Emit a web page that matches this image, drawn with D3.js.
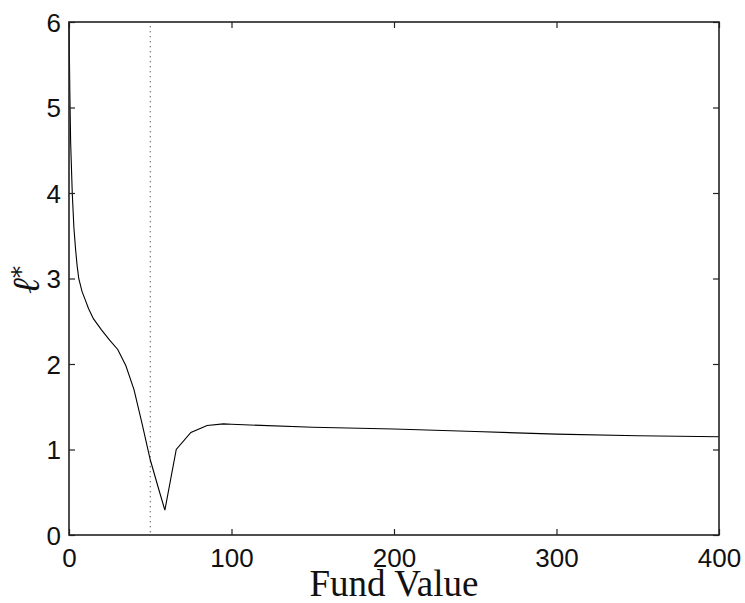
<!DOCTYPE html>
<html>
<head>
<meta charset="utf-8">
<script src="https://cdn.jsdelivr.net/npm/d3@7"></script>
<style>
  body { margin: 0; background: #fff; }
</style>
</head>
<body>
<script>
// fund value (x) and optimal l* (y)
var fundValue = [0, 0.5, 1, 2, 3, 4, 5, 6, 8, 10, 12, 15, 20, 25, 30, 35, 40, 45, 50, 55, 59, 66, 75, 85, 95, 100, 150, 200, 250, 300, 350, 400];
var lStar = [6, 5.2, 4.6, 4.0, 3.6, 3.35, 3.15, 3.0, 2.85, 2.75, 2.65, 2.53, 2.4, 2.28, 2.17, 1.98, 1.70, 1.30, 0.88, 0.55, 0.29, 1.0, 1.2, 1.28, 1.30, 1.295, 1.26, 1.24, 1.21, 1.18, 1.16, 1.15];
var xTicks = [0, 100, 200, 300, 400];
var yTicks = [0, 1, 2, 3, 4, 5, 6];
var thresholdX = 50;

var W = 745, H = 603;
var padL = 69, padR = 719, padT = 22, padB = 535;

var svg = d3.select("body").append("svg")
    .attr("width", W)
    .attr("height", H);

var x = d3.scaleLinear().domain([0, 400]).range([padL, padR]);
var y = d3.scaleLinear().domain([0, 6]).range([padB, padT]);

var tickFont = "'Liberation Sans', Arial, sans-serif";

// curve
var line = d3.line()
    .x(function(d, i){ return x(fundValue[i]); })
    .y(function(d){ return y(d); });

svg.append("path")
    .datum(lStar)
    .attr("d", line)
    .attr("fill", "none")
    .attr("stroke", "#000")
    .attr("stroke-width", 1.1);

// dotted threshold line
svg.append("line")
    .attr("x1", x(thresholdX))
    .attr("x2", x(thresholdX))
    .attr("y1", y(5.95))
    .attr("y2", y(0))
    .attr("stroke", "#222")
    .attr("stroke-width", 1)
    .attr("stroke-dasharray", "1,4");

// axes: bottom/left with labels, top/right ticks only
function styleAxis(g){
    g.select(".domain").remove();
    g.selectAll(".tick line").attr("stroke", "#222").attr("stroke-width", 1.2);
    g.selectAll(".tick text")
        .style("font-family", tickFont)
        .style("font-size", "26px")
        .attr("fill", "#111");
}

svg.append("g")
    .attr("transform", "translate(0," + padB + ")")
    .call(d3.axisBottom(x).tickValues(xTicks).tickFormat(d3.format("d")).tickSizeInner(-6).tickSizeOuter(0))
    .call(styleAxis)
    .selectAll(".tick text").attr("y", 32).attr("dy", 0);

svg.append("g")
    .attr("transform", "translate(" + padL + ",0)")
    .call(d3.axisLeft(y).tickValues(yTicks).tickFormat(d3.format("d")).tickSizeInner(-6).tickSizeOuter(0))
    .call(styleAxis)
    .selectAll(".tick text").attr("x", -8).attr("dy", "0.36em");

svg.append("g")
    .attr("transform", "translate(0," + padT + ")")
    .call(d3.axisTop(x).tickValues(xTicks).tickSizeInner(-6).tickSizeOuter(0).tickFormat(""))
    .call(styleAxis);

svg.append("g")
    .attr("transform", "translate(" + padR + ",0)")
    .call(d3.axisRight(y).tickValues(yTicks).tickSizeInner(-6).tickSizeOuter(0).tickFormat(""))
    .call(styleAxis);

// frame
svg.append("rect")
    .attr("x", padL)
    .attr("y", padT)
    .attr("width", padR - padL)
    .attr("height", padB - padT)
    .attr("fill", "none")
    .attr("stroke", "#222")
    .attr("stroke-width", 1.6);

// axis titles
svg.append("text")
    .attr("x", (padL + padR) / 2)
    .attr("y", 596)
    .attr("text-anchor", "middle")
    .style("font-family", "'Liberation Serif', 'Times New Roman', serif")
    .style("font-size", "37px")
    .attr("fill", "#111")
    .text("Fund Value");

var ylab = svg.append("text")
    .attr("transform", "translate(39,280) rotate(-90)")
    .attr("text-anchor", "middle")
    .style("font-family", "'DejaVu Serif', serif")
    .style("font-style", "italic")
    .style("font-size", "38px")
    .attr("fill", "#111");
ylab.append("tspan").text("\u2113");
ylab.append("tspan")
    .attr("dy", "-0.4em")
    .style("font-style", "normal")
    .style("font-size", "24px")
    .text("*");
</script>
</body>
</html>
